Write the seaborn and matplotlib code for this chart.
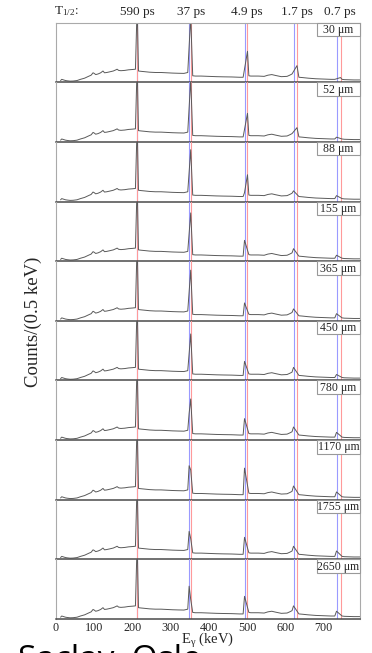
import numpy as np
import pandas as pd
import matplotlib
matplotlib.use("Agg")
import matplotlib.pyplot as plt
import matplotlib.transforms as mtransforms
from matplotlib.patches import Rectangle
import seaborn as sns

# ---------------- data ----------------
DISTANCES = ["30 μm", "52 μm", "88 μm", "155 μm", "365 μm", "450 μm",
             "780 μm", "1170 μm", "1755 μm", "2650 μm"]

HALF_LIVES = ["590 ps", "37 ps", "4.9 ps", "1.7 ps", "0.7 ps"]
HALF_LIFE_E = [212.5, 354.0, 499.0, 630.0, 742.0]

# continuum shape shared by all panels (keV, % of panel height)
CONT_E = [12, 15, 20, 25, 30, 37, 45, 55, 64, 75, 85, 92, 97, 100, 104, 110,
          117, 123, 127, 133, 140, 150, 157, 160, 164, 170, 180, 190, 200,
          208, 216, 222, 230, 245, 260, 275, 290, 305, 320, 335, 345, 358,
          365, 380, 400, 420, 440, 460, 480, 490, 505, 510, 530, 545, 555,
          565, 575, 590, 605, 612, 618, 636, 645, 660, 680, 700, 720, 730,
          749, 755, 780, 796]
CONT_Y = [3, 5, 4, 3, 2.5, 2, 2.2, 3, 5, 7, 10, 12, 16, 15, 13, 14,
          16, 19, 16, 16.5, 17.5, 19, 21, 22, 20, 19.5, 20, 21, 21.5,
          22, 19, 18.5, 18, 17, 16.5, 16.5, 16, 15.5, 15.2, 15, 16.5, 11,
          10.5, 10.5, 10, 9.5, 9.2, 9, 8.5, 8.5, 11, 10.5, 10.5, 10, 12,
          13, 11.5, 9.5, 10, 12, 14, 8.5, 8, 7, 6, 5.5, 5, 5,
          5, 4.5, 4, 4]

# gamma lines: Doppler-shifted (blue) and unshifted (red) positions
STOP_LINE_E = 212.5
STOP_PEAK = [130] * 10
SHIFTED_E = [348.6, 493.6, 621.9, 734.5]
UNSHIFTED_E = [352.7, 501.4, 631.0, 745.0]

# peak apex heights per panel (% of panel height, 0 = no component)
S_350 = [0, 0, 0, 0, 0, 0, 45, 57, 47, 55]
U_350 = [110, 105, 87, 81, 85, 78, 69, 50, 35, 33]
S_495 = [0, 0, 15, 35, 30, 32, 36, 53, 37, 38]
U_495 = [52, 48, 45, 0, 0, 0, 0, 0, 0, 0]
S_622 = [0, 17, 18, 21, 20, 22, 22, 23, 22, 22]
U_622 = [28, 24, 0, 0, 0, 0, 0, 0, 0, 0]
S_735 = [0, 8, 10, 10, 12, 10, 13, 13, 14, 13]
U_735 = [8, 0, 0, 0, 0, 0, 0, 0, 0, 0]

XTICKS = [0, 100, 200, 300, 400, 500, 600, 700]

# ---------------- style ----------------
sns.set_style("white")
plt.rcParams["font.family"] = ["Liberation Serif", "DejaVu Serif"]
plt.rcParams["mathtext.fontset"] = "custom"
plt.rcParams["mathtext.rm"] = "Liberation Serif"
plt.rcParams["mathtext.it"] = "Liberation Serif:italic"

W, H = 372, 653
fig = plt.figure(figsize=(W / 100, H / 100), dpi=100)
left, right = 56 / W, 360 / W
top, bottom = 1 - 22.7 / H, 1 - 619 / H
gs = fig.add_gridspec(10, 1, left=left, right=right, top=top, bottom=bottom, hspace=0)

SPEC_C = "#5a5a5a"
BLUE = "#9a9aff"
RED = "#ff9a9a"
FRAME = "#aaaaaa"
SEP = "#4a4a4a"

S_ALL = [S_350, S_495, S_622, S_735]
U_ALL = [U_350, U_495, U_622, U_735]

axes = []
for i in range(10):
    ax = fig.add_subplot(gs[i, 0])
    ax.patch.set_visible(False)
    axes.append(ax)
    e = list(CONT_E) + [STOP_LINE_E]
    y = list(CONT_Y) + [STOP_PEAK[i]]
    for k in range(4):
        if S_ALL[k][i] > 0:
            e.append(SHIFTED_E[k]); y.append(S_ALL[k][i])
        if U_ALL[k][i] > 0:
            e.append(UNSHIFTED_E[k]); y.append(U_ALL[k][i])
    df = pd.DataFrame({"E": e, "counts": y}).sort_values("E")

    ax.axvline(STOP_LINE_E - 0.6, color=BLUE, lw=0.8, zorder=1)
    ax.axvline(STOP_LINE_E + 0.6, color=RED, lw=0.8, zorder=1)
    for k in range(4):
        ax.axvline(SHIFTED_E[k], color=BLUE, lw=0.8, zorder=1)
        ax.axvline(UNSHIFTED_E[k], color=RED, lw=0.8, zorder=1)

    sns.lineplot(data=df, x="E", y="counts", ax=ax, color=SPEC_C, lw=0.7,
                 estimator=None, sort=False, zorder=2)

    ax.set_xlim(0, 796)
    ax.set_ylim(0, 100)
    ax.set_yticks([])
    ax.set_xlabel("")
    ax.set_ylabel("")
    ax.set_xticks(XTICKS)
    ax.tick_params(axis="x", direction="in", length=2.5, width=0.6, color="#666666",
                   labelsize=8.7, pad=2)
    if i < 9:
        ax.tick_params(axis="x", labelbottom=False)
    for s in ["left", "right"]:
        ax.spines[s].set_color(FRAME)
        ax.spines[s].set_linewidth(0.8)
    ax.spines["top"].set_visible(i == 0)
    ax.spines["top"].set_color(FRAME)
    ax.spines["top"].set_linewidth(0.8)
    ax.spines["bottom"].set_color(SEP)
    ax.spines["bottom"].set_linewidth(1.1)
    ax.spines["bottom"].set_zorder(4)

    bx0 = (316.7 - 56) / (360 - 56)
    bh = 13.4 / 59.6
    ax.add_patch(Rectangle((bx0, 1 - bh), 1 - bx0, bh, transform=ax.transAxes,
                           facecolor="white", edgecolor="#999999", lw=0.8,
                           zorder=5, clip_on=False))
    ax.text((bx0 + 1) / 2, 1 - bh / 2 - 0.01, DISTANCES[i], transform=ax.transAxes,
            ha="center", va="center", fontsize=8.5, zorder=6)

# half-life header
trans = mtransforms.blended_transform_factory(axes[0].transData, fig.transFigure)
yh = 1 - 11.5 / H
fig.text(54.3 / W, yh, r"T$_{\mathrm{1/2}}$:", ha="left", va="center", fontsize=9.5)
for lab, ex in zip(HALF_LIVES, HALF_LIFE_E):
    fig.text(ex, yh, lab, transform=trans, ha="center", va="center", fontsize=9.5)

fig.text(33 / W, 1 - 322 / H, "Counts/(0.5 keV)", rotation=90, ha="center",
         va="center", fontsize=13.5)
fig.text(208 / W, 1 - 640.5 / H, r"E$_{\mathrm{γ}}$ (keV)", ha="center", va="center",
         fontsize=10.5)

fig.text(18 / W, 1 - 669 / H, "Saclay, Oslo", ha="left", va="baseline",
         fontsize=24, family=["Open Sans", "DejaVu Sans"], color="black", zorder=0)

fig.savefig("out.png", dpi=100)
